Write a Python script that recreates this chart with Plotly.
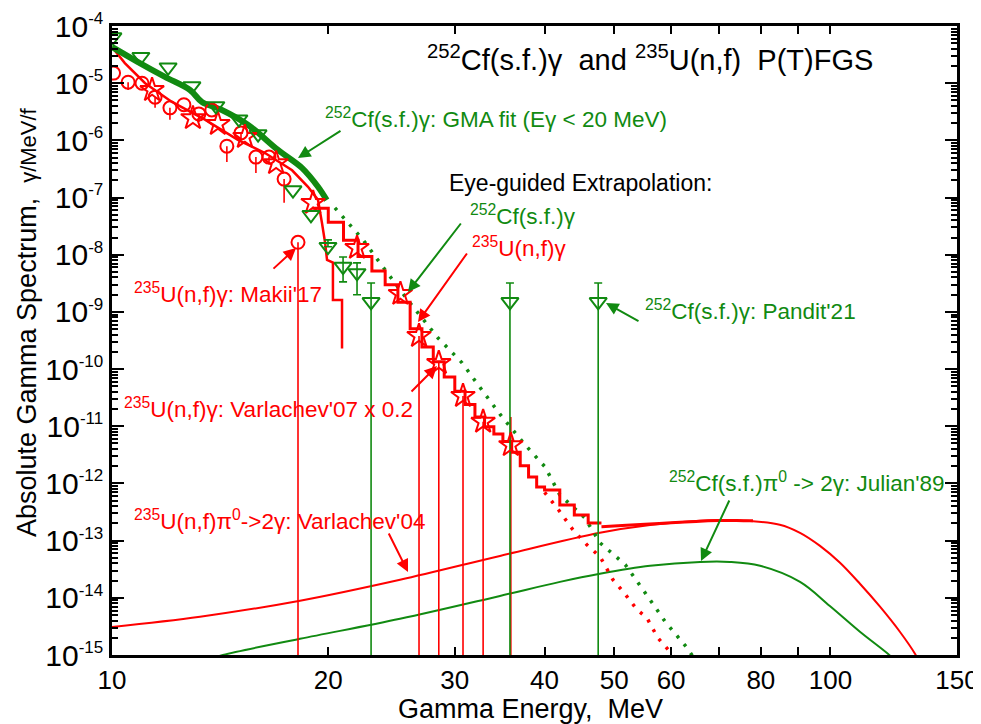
import numpy as np
import plotly.graph_objects as go

RED = "#ff0000"
GRN = "#118a11"
FONT = "Liberation Sans, Arial, sans-serif"

# ---------------- data ----------------
# 252Cf(s.f.) gamma: GMA fit (E < 20 MeV)
gma_E = [10.0, 10.87, 11.85, 12.84, 13.34, 14.22, 15.47, 17.02, 18.38, 19.35, 19.9]
gma_v = [4.3e-5, 2.34e-5, 1.29e-5, 7.6e-6, 4.7e-6, 3.4e-6, 1.86e-6, 6.8e-7, 3.3e-7, 1.54e-7, 9.0e-8]

# 235U(n,f) gamma thin curve (with Makii histogram tail)
uthin_E = [10.0, 10.42, 11.12, 12.12, 13.47, 14.97, 16.33, 17.81, 18.74, 19.35, 19.6, 19.8, 19.92, 20.3, 20.3, 20.9, 20.9]
uthin_v = [4.3e-5, 2.25e-5, 1.0e-5, 4.7e-6, 2.3e-6, 1.02e-6, 6.0e-7, 3.0e-7, 1.54e-7, 9.1e-8, 3.6e-8,
           1.6e-8, 8.1e-9, 7.3e-9, 1.62e-9, 1.62e-9, 2.3e-10]

# Makii'17 points (open circles) and lower ends of their error bars
makii_E = [10.05, 10.53, 11.01, 11.48, 12.04, 12.59, 13.21, 13.77, 14.45, 15.12, 15.86, 16.54, 17.36, 18.15]
makii_v = [1.5e-5, 1.04e-5, 1.0e-5, 5.7e-6, 3.7e-6, 4.2e-6, 2.9e-6, 3.4e-6, 7.9e-7, 1.35e-6, 5.1e-7, 5.1e-7, 2.1e-7, 1.65e-8]
makii_lo = [1.5e-5, 7.6e-6, 1.0e-5, 3.7e-6, 2.3e-6, 4.2e-6, 2.1e-6, 3.4e-6, 4.2e-7, 1.0e-6, 2.7e-7, 3.8e-7, 8.1e-8, 1e-17]

# Varlachev'07 x 0.2 (open stars)
varl_E = [11.37, 12.96, 14.04, 15.31, 16.92, 19.05, 21.93, 25.2, 26.75, 28.5, 30.8, 32.85, 35.9]
varl_v = [7.6e-6, 2.45e-6, 1.94e-6, 1.15e-6, 4.0e-7, 8.1e-8, 1.32e-8, 2.07e-9, 3.8e-10, 1.28e-10, 3.4e-11, 1.2e-11, 4.7e-12]
varl_hi = [7.6e-6, 2.45e-6, 1.94e-6, 1.15e-6, 4.0e-7, 8.1e-8, 1.32e-8, 2.07e-9, 3.8e-10, 1.28e-10, 3.4e-11, 1.2e-11, 1.45e-11]
varl_lo = [7.6e-6, 2.45e-6, 1.94e-6, 1.15e-6, 4.0e-7, 8.1e-8, 1.32e-8, 2.07e-9, 1e-17, 1e-17, 1e-17, 1e-17, 1e-17]

# Pandit'21 (open down triangles)
pand_E = [10.03, 10.97, 11.97, 12.92, 13.95, 15.02, 15.97, 17.86, 18.92, 19.98, 20.97, 21.93, 22.94, 35.8, 47.5]
pand_v = [6.4e-5, 2.9e-5, 1.9e-5, 8.9e-6, 4.0e-6, 2.35e-6, 1.29e-6, 1.35e-7, 5.0e-8, 1.38e-8, 6.2e-9, 4.8e-9, 1.5e-9, 1.5e-9, 1.5e-9]
pand_hi = [6.4e-5, 2.9e-5, 1.9e-5, 8.9e-6, 4.0e-6, 2.35e-6, 1.29e-6, 1.35e-7, 5.0e-8, 1.82e-8, 9.1e-9, 7.2e-9, 3.2e-9, 3.2e-9, 3.2e-9]
pand_lo = [6.4e-5, 2.9e-5, 1.9e-5, 8.9e-6, 4.0e-6, 2.35e-6, 1.29e-6, 1.35e-7, 5.0e-8, 1.38e-8, 3.35e-9, 2.0e-9, 1e-17, 1e-17, 1e-17]

# Eye-guided extrapolation, 235U(n,f) gamma: histogram (bin edges / bin values)
ustep_edges = [19, 20, 21, 22, 23, 24, 25, 26, 27, 28, 29, 30, 31, 32, 33, 34, 35, 36, 37, 38, 39, 40, 42, 44, 46, 48]
ustep_vals = [6.47e-8, 3.7e-8, 1.79e-8, 9.3e-9, 5.2e-9, 3.0e-9, 1.48e-9, 5.1e-10, 2.44e-10, 1.34e-10, 7.3e-11,
              4.1e-11, 2.4e-11, 1.45e-11, 9.8e-12, 7.3e-12, 5.4e-12, 3.5e-12, 2.03e-12, 1.3e-12, 8.7e-13,
              7.7e-13, 4.2e-13, 2.8e-13, 2.04e-13]
# gamma + pi0 sum beyond 48 MeV
usum_E = [48, 52, 56, 60, 65, 70, 74, 78]
usum_v = [1.75e-13, 1.85e-13, 1.95e-13, 2.06e-13, 2.17e-13, 2.24e-13, 2.26e-13, 2.22e-13]

# Eye-guided extrapolation (dotted)
cfext_E = [20.43, 22.36, 24.0, 25.98, 28.43, 30.7, 32.7, 34.9, 37.6, 40.06, 42.0, 45.5, 47.8, 51.8, 55.2, 58.9, 63.1, 64.5]
cfext_v = [6.6e-8, 1.82e-8, 5.4e-9, 1.44e-9, 3.5e-10, 1.29e-10, 4.35e-11, 1.46e-11, 4.7e-12, 1.95e-12, 6.3e-13,
           2.5e-13, 9.1e-14, 3.8e-14, 1.23e-14, 3.8e-15, 1.35e-15, 9e-16]
uext_E = [40.0, 41.8, 43.8, 45.8, 47.8, 49.8, 51.6, 53.8, 55.5, 57.5, 59.8, 61.0]
uext_v = [7.0e-13, 3.5e-13, 1.55e-13, 8.5e-14, 5.2e-14, 2.07e-14, 1.23e-14, 6.2e-15, 4.5e-15, 2.0e-15, 1.14e-15, 8e-16]

# pi0 -> 2 gamma
upi_E = [10.0, 13.26, 18.27, 25.17, 34.67, 47.76, 56.09, 65.84, 74.8, 85.0, 90.7, 96.7, 103.1, 109.9,
         117.2, 124.9, 131.1, 134.0]
upi_v = [3.1e-15, 4.67e-15, 8.9e-15, 2.07e-14, 5.4e-14, 1.37e-13, 1.87e-13, 2.22e-13, 2.26e-13, 1.9e-13,
         1.37e-13, 8.1e-14, 4.1e-14, 1.76e-14, 7.0e-15, 2.55e-15, 1.05e-15, 6e-16]
cfpi_E = [13.5, 14.27, 18.27, 25.17, 34.67, 42.02, 47.76, 56.09, 65.84, 72.45, 79.8, 90.7, 99.8, 109.9, 120.2, 123.0]
cfpi_v = [8e-16, 1.0e-15, 1.92e-15, 4.3e-15, 1.08e-14, 1.9e-14, 2.63e-14, 3.63e-14, 4.25e-14, 4.25e-14,
          3.63e-14, 1.9e-14, 7.2e-15, 2.55e-15, 1.05e-15, 8e-16]

x_ticks = [10, 20, 30, 40, 50, 60, 70, 80, 90, 100, 150]
x_ticktext = ["10", "20", "30", "40", "50", "60", "", "80", "", "100", "150"]
y_exps = list(range(-15, -3))

# ---------------- figure ----------------
fig = go.Figure()

def line(x, y, color, width, dash=None, shape="linear"):
    fig.add_trace(go.Scatter(x=x, y=y, mode="lines", showlegend=False, hoverinfo="skip",
                             line=dict(color=color, width=width, dash=dash, shape=shape)))

line(upi_E, upi_v, RED, 2, shape="spline")
line(cfpi_E, cfpi_v, GRN, 2, shape="spline")
line(cfext_E, cfext_v, GRN, 3.5, dash="3px,8px")
line(uext_E, uext_v, RED, 3.5, dash="3px,8px")
line(uthin_E, uthin_v, RED, 2.5)
line(ustep_edges, ustep_vals + [ustep_vals[-1]], RED, 3, shape="hv")
line(usum_E, usum_v, RED, 3, shape="spline")
line(gma_E, gma_v, GRN, 6, shape="spline")

def errs(E, v, hi, lo, color, width):
    idx = [i for i in range(len(E)) if hi[i] != v[i] or lo[i] != v[i]]
    fig.add_trace(go.Scatter(
        x=[E[i] for i in idx], y=[v[i] for i in idx], mode="markers", showlegend=False, hoverinfo="skip",
        marker=dict(size=1, color="rgba(0,0,0,0)"),
        error_y=dict(type="data", symmetric=False,
                     array=[hi[i] - v[i] for i in idx], arrayminus=[v[i] - lo[i] for i in idx],
                     color=color, thickness=1.6, width=width)))

errs(makii_E, makii_v, makii_v, makii_lo, RED, 0)
errs(varl_E, varl_v, varl_hi, varl_lo, RED, 0)
errs(pand_E, pand_v, pand_hi, pand_lo, GRN, 4)

fig.add_trace(go.Scatter(x=makii_E, y=makii_v, mode="markers", showlegend=False,
                         marker=dict(symbol="circle-open", size=13, color=RED, line=dict(width=2))))
fig.add_trace(go.Scatter(x=varl_E, y=varl_v, mode="markers", showlegend=False,
                         marker=dict(symbol="star-open", size=18, color=RED, line=dict(width=2))))
fig.add_trace(go.Scatter(x=pand_E, y=pand_v, mode="markers", showlegend=False,
                         marker=dict(symbol="triangle-down-open", size=15, color=GRN, line=dict(width=2))))

# ---------------- annotations ----------------
# plot area in page pixels (page has an 8 px body margin around the figure)
OFF = 8
L, R, T, B = 112, 957, 26, 655
W, H = 981 - OFF, 724 - OFF

def P(px, py):
    return (px - L) / (R - L), (B - py) / (B - T)

ann = []

def text(s, px, py, color, size, xanchor="left", angle=0):
    x, y = P(px, py)
    ann.append(dict(text=s, x=x, y=y, xref="paper", yref="paper", showarrow=False,
                    xanchor=xanchor, yanchor="middle", textangle=angle,
                    font=dict(family=FONT, size=size, color=color)))

def arrow(tip, tail, color):
    x, y = P(*tip)
    ann.append(dict(text="", x=x, y=y, xref="paper", yref="paper", showarrow=True,
                    ax=tail[0] - tip[0], ay=tail[1] - tip[1], axref="pixel", ayref="pixel",
                    arrowhead=2, arrowsize=1.25, arrowwidth=2, arrowcolor=color))

LS = 22.5
text("<sup>252</sup>Cf(s.f.)γ  and <sup>235</sup>U(n,f)  P(T)FGS", 425, 58, "black", 29)
text("<sup>252</sup>Cf(s.f.)γ: GMA fit (Eγ < 20 MeV)", 323, 118, GRN, LS)
text("Eye-guided Extrapolation:", 447, 183, "black", 23)
text("<sup>252</sup>Cf(s.f.)γ", 468, 215, GRN, LS)
text("<sup>235</sup>U(n,f)γ", 470, 247, RED, LS)
text("<sup>235</sup>U(n,f)γ: Makii'17", 132, 293, RED, LS)
text("<sup>252</sup>Cf(s.f.)γ: Pandit'21", 643, 310, GRN, LS)
text("<sup>235</sup>U(n,f)γ: Varlachev'07 x 0.2", 122, 408, RED, LS)
text("<sup>235</sup>U(n,f)π<sup>0</sup>->2γ: Varlachev'04", 132, 520, RED, LS)
text("<sup>252</sup>Cf(s.f.)π<sup>0</sup> -> 2γ: Julian'89", 667, 482, GRN, LS)

arrow((298, 158), (342, 130), GRN)
arrow((296, 248), (272, 270), RED)
arrow((408, 292), (462, 222), GRN)
arrow((418, 322), (468, 252), RED)
arrow((437, 366), (410, 393), RED)
arrow((408, 572), (388, 532), RED)
arrow((701, 561), (730, 499), GRN)
arrow((606, 303), (640, 322), GRN)

text("Gamma Energy,  MeV", 530, 709, "black", 27, xanchor="center")
text("Absolute Gamma Spectrum,  <span style='font-size:22px'>γ/MeV/f</span>", 27, 322, "black", 27,
     xanchor="center", angle=-90)

minor_y = [m * 10.0 ** e for e in range(-15, -4) for m in range(2, 10)]

fig.update_layout(
    width=W, height=H,
    margin=dict(l=L - OFF, r=W - (R - OFF), t=T - OFF, b=H - (B - OFF), pad=0),
    paper_bgcolor="white", plot_bgcolor="white",
    font=dict(family=FONT, color="black"),
    annotations=ann,
    xaxis=dict(type="log", range=[1, np.log10(150)], tickvals=x_ticks, ticktext=x_ticktext,
               ticks="inside", ticklen=8, tickwidth=2, tickcolor="black",
               showline=True, linewidth=2.5, linecolor="black", mirror="allticks",
               showgrid=False, zeroline=False, tickfont=dict(size=26), automargin=False),
    yaxis=dict(type="log", range=[-15, -4], tickvals=[10.0 ** e for e in y_exps],
               ticktext=["10<sup><span style='font-size:17px'>%d</span></sup>" % e for e in y_exps],
               ticks="inside", ticklen=12, tickwidth=2, tickcolor="black",
               showline=True, linewidth=2.5, linecolor="black", mirror="allticks",
               showgrid=False, zeroline=False, tickfont=dict(size=30), automargin=False,
               minor=dict(tickvals=minor_y, ticks="inside", ticklen=6, tickwidth=1.5,
                          tickcolor="black", showgrid=False)),
)

fig.write_html("out.html")
